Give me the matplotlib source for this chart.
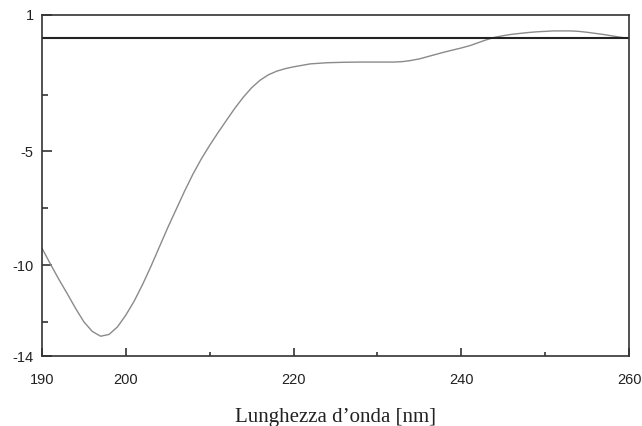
import matplotlib
matplotlib.use("Agg")
import matplotlib.pyplot as plt

# wavelength (nm) and CD signal
wavelength = [190, 191, 192, 193, 194, 195, 196, 197, 198, 199,
              200, 201, 202, 203, 204, 205, 206, 207, 208, 209,
              210, 211, 212, 213, 214, 215, 216, 217, 218, 219,
              220, 222, 224, 226, 228, 230, 232, 233, 234, 235,
              236, 237, 238, 239, 240, 241, 242, 243, 244, 245,
              246, 247, 248, 249, 250, 251, 252, 253, 254, 255,
              256, 257, 258, 259, 260]
signal = [-9.26, -9.95, -10.62, -11.25, -11.9, -12.5, -12.92, -13.13, -13.05, -12.72,
          -12.2, -11.58, -10.85, -10.05, -9.2, -8.35, -7.55, -6.75, -6.0, -5.33,
          -4.73, -4.17, -3.63, -3.1, -2.62, -2.2, -1.87, -1.63, -1.47, -1.36,
          -1.28, -1.15, -1.1, -1.08, -1.07, -1.07, -1.07, -1.05, -1.0, -0.93,
          -0.83, -0.73, -0.63, -0.54, -0.45, -0.35, -0.22, -0.09, 0.02, 0.09,
          0.15, 0.19, 0.23, 0.26, 0.28, 0.3, 0.3, 0.3, 0.28, 0.24,
          0.19, 0.14, 0.08, 0.02, -0.03]

x_ticks = [190, 200, 220, 240, 260]
x_minor = [210, 230, 250]
y_ticks = [1, -5, -10, -14]
y_minor = [-2.5, -7.5, -12.5]

fig = plt.figure(figsize=(6.42, 4.26), dpi=100)
ax = fig.add_axes([0.0654, 0.1643, 0.9144, 0.8005])

ax.plot(wavelength, signal, color="#8a8a8a", lw=1.0, solid_joinstyle="round")
ax.axhline(0, color="#222222", lw=1.5)

ax.set_xlim(190, 260)
ax.set_ylim(-14, 1)
ax.set_xticks(x_ticks)
ax.set_xticks(x_minor, minor=True)
ax.set_yticks(y_ticks)
ax.set_yticks(y_minor, minor=True)
ax.set_yticklabels([str(v) for v in y_ticks])

for s in ax.spines.values():
    s.set_color("#333333")
    s.set_linewidth(1.2)

ax.tick_params(axis="x", which="major", direction="in", length=6, width=1.2,
               pad=12, labelsize=10.5, colors="#333333", labelcolor="#222222")
ax.tick_params(axis="x", which="minor", direction="in", length=3, width=1.2,
               colors="#333333")
ax.tick_params(axis="y", which="major", direction="in", length=7, width=1.2,
               pad=6, labelsize=10.5, colors="#333333", labelcolor="#222222")
ax.tick_params(axis="y", which="minor", direction="in", length=4, width=1.2,
               colors="#333333")
for lab in ax.get_xticklabels() + ax.get_yticklabels():
    lab.set_family("Liberation Sans")

ax.set_xlabel("Lunghezza d\u2019onda [nm]", family="Liberation Serif",
              fontsize=15, color="#222222", labelpad=15)

fig.savefig("out.png", dpi=100)
